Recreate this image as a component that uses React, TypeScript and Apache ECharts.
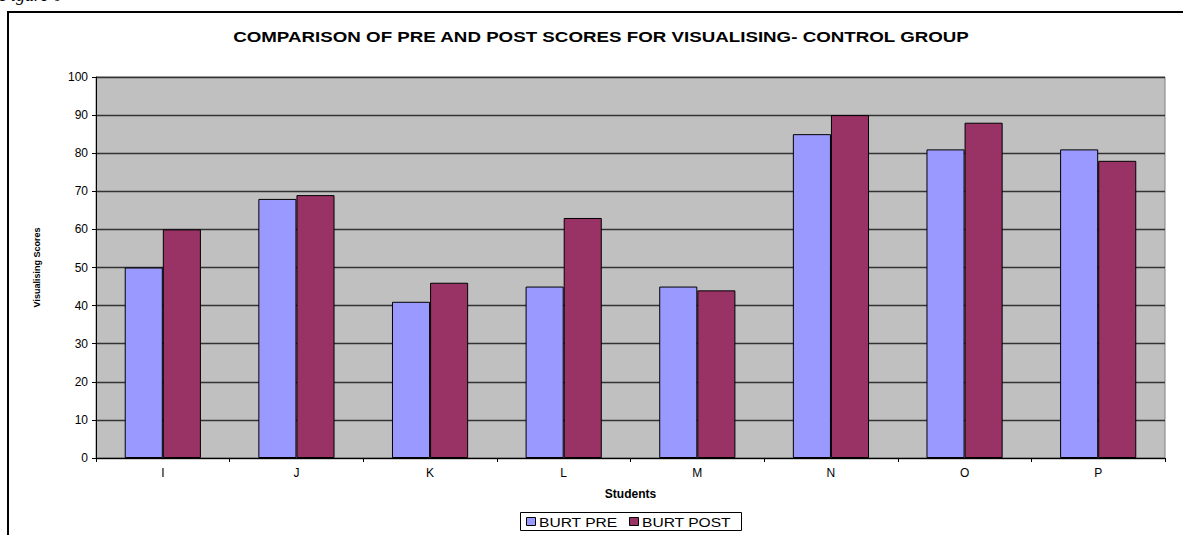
import React, { useEffect, useRef } from "react";
import * as echarts from "echarts";

// Students and their visualising scores before and after
const students = ["I", "J", "K", "L", "M", "N", "O", "P"];
const burtPre = [50, 68, 41, 45, 45, 85, 81, 81];
const burtPost = [60, 69, 46, 63, 44, 90, 88, 78];
const seriesNames = ["BURT PRE", "BURT POST"];
const seriesColors = ["#9999FF", "#993366"];

const W = 1183;
const H = 535;
const FONT = "Arial, 'Liberation Sans', Helvetica, sans-serif";
// Text in this figure is drawn slightly wide
const WIDE = 1.2;

export default function App() {
  const ref = useRef<HTMLDivElement>(null);

  useEffect(() => {
    document.body.style.margin = "0";
    const chart = echarts.init(ref.current!, null, { renderer: "svg" });
    const axisFont = { fontFamily: FONT, color: "#000" };

    // Boxed legend built from swatches and stretched labels
    const legendTop = 512;
    const legendItems = [
      { x: 526, name: seriesNames[0], color: seriesColors[0] },
      { x: 629, name: seriesNames[1], color: seriesColors[1] },
    ];
    const legendGraphics: any[] = [
      {
        type: "rect",
        shape: { x: 520.5, y: legendTop + 0.5, width: 221, height: 18 },
        style: { fill: "#fff", stroke: "#000", lineWidth: 1 },
      },
    ];
    legendItems.forEach((it) => {
      legendGraphics.push({
        type: "rect",
        shape: { x: it.x + 0.5, y: legendTop + 5.5, width: 9, height: 8 },
        style: { fill: it.color, stroke: "#000", lineWidth: 1 },
      });
      legendGraphics.push({
        type: "text",
        x: it.x + 13,
        y: legendTop + 10,
        scaleX: WIDE,
        style: {
          text: it.name,
          font: `13px ${FONT}`,
          fill: "#000",
          textAlign: "left",
          textVerticalAlign: "middle",
        },
      });
    });

    chart.setOption({
      animation: false,
      graphic: [
        {
          type: "text",
          x: 601,
          y: 37,
          scaleX: 1.25,
          style: {
            text: "COMPARISON OF PRE AND POST SCORES FOR VISUALISING- CONTROL GROUP",
            font: `bold 15px ${FONT}`,
            fill: "#000",
            textAlign: "center",
            textVerticalAlign: "middle",
          },
        },
        ...legendGraphics,
      ],
      grid: {
        left: 96,
        top: 77,
        right: W - 1165,
        bottom: H - 458,
        show: true,
        backgroundColor: "#C0C0C0",
        borderColor: "#808080",
        borderWidth: 1,
        containLabel: false,
      },
      xAxis: {
        type: "category",
        data: students,
        name: "Students",
        nameLocation: "middle",
        nameGap: 30,
        nameTextStyle: { ...axisFont, fontSize: 12, fontWeight: "bold" },
        axisLine: { lineStyle: { color: "#000", width: 1 } },
        axisTick: { show: true, length: 4, alignWithLabel: false, lineStyle: { color: "#000" } },
        axisLabel: { ...axisFont, fontSize: 12, margin: 9 },
      },
      yAxis: {
        type: "value",
        min: 0,
        max: 100,
        interval: 10,
        name: "Visualising Scores",
        nameLocation: "middle",
        nameGap: 55,
        nameTextStyle: {
          fontFamily: "'Liberation Sans Narrow', 'Arial Narrow', Arial, sans-serif",
          color: "#000",
          fontSize: 9,
          fontWeight: "bold",
        },
        axisLine: { show: true, lineStyle: { color: "#000", width: 1 } },
        axisTick: { show: true, length: 4, lineStyle: { color: "#000" } },
        axisLabel: { ...axisFont, fontSize: 12, margin: 8 },
        splitLine: { show: true, lineStyle: { color: "#333", width: 1.3 } },
      },
      series: [
        {
          name: seriesNames[0],
          type: "bar",
          data: burtPre,
          barGap: "0%",
          barCategoryGap: "43%",
          itemStyle: { color: seriesColors[0], borderColor: "#000", borderWidth: 1 },
        },
        {
          name: seriesNames[1],
          type: "bar",
          data: burtPost,
          barGap: "0%",
          barCategoryGap: "43%",
          itemStyle: { color: seriesColors[1], borderColor: "#000", borderWidth: 1 },
        },
      ],
    });
    return () => chart.dispose();
  }, []);

  return (
    <div
      style={{
        position: "relative",
        width: W,
        height: H,
        overflow: "hidden",
        background: "#fff",
      }}
    >
      <div
        style={{
          position: "absolute",
          left: 0,
          top: -15,
          fontFamily: "'Liberation Serif', 'Times New Roman', serif",
          fontStyle: "italic",
          fontSize: 18,
          lineHeight: "20px",
          whiteSpace: "nowrap",
        }}
      >
        Figure 6
      </div>
      <div
        style={{
          position: "absolute",
          left: 7,
          top: 11,
          width: W + 20,
          height: H + 20,
          border: "2px solid #000",
          boxSizing: "border-box",
        }}
      />
      <div ref={ref} style={{ position: "absolute", left: 0, top: 0, width: W, height: H }} />
    </div>
  );
}
